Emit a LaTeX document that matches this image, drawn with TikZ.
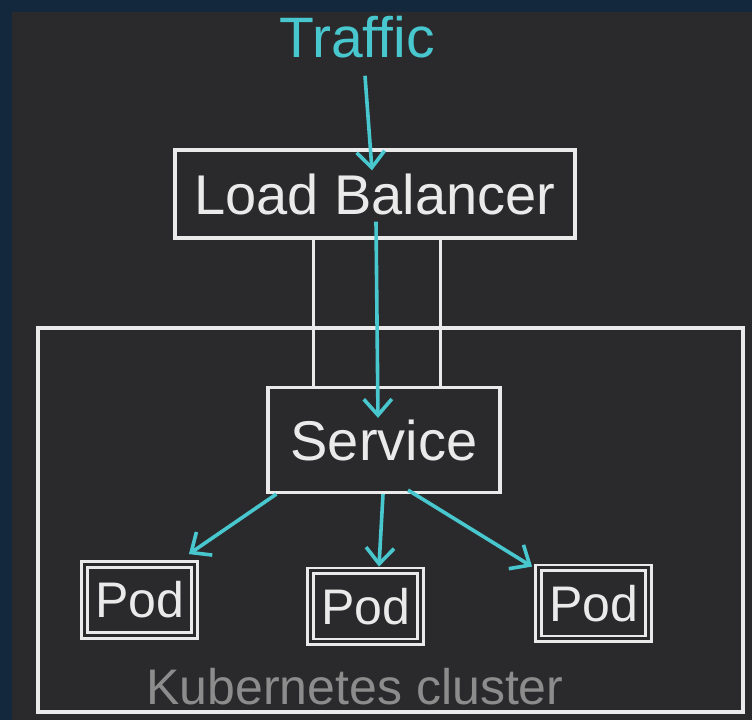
\documentclass[tikz,border=0pt]{standalone}
\usepackage{fontspec}
\setmainfont{Liberation Sans}
\usetikzlibrary{arrows.meta,positioning,calc}
\definecolor{board}{RGB}{42,42,44}
\definecolor{frame}{RGB}{19,40,61}
\definecolor{chalk}{RGB}{234,234,234}
\definecolor{flowcyan}{RGB}{72,200,206}
\definecolor{ash}{RGB}{140,140,140}
\begin{document}
\begin{tikzpicture}[x=1pt,y=1pt,
 box/.style={draw=chalk, line width=3.2pt, text=chalk, font=\fontsize{56}{60}\selectfont, inner sep=0pt},
 podbox/.style={draw=chalk, double=board, double distance=3pt, line width=2.8pt, text=chalk, font=\fontsize{50}{54}\selectfont, inner sep=0pt, minimum width=110pt, minimum height=71pt},
 flow/.style={-{Straight Barb[length=16pt,width=28pt]}, line width=3.6pt, color=flowcyan},
 wire/.style={draw=chalk, line width=3pt}]
\useasboundingbox (0,0) rectangle (752,720);
\fill[frame] (0,0) rectangle (752,720);
\fill[board] (12,0) rectangle (752,708);
\node[box, minimum width=705pt, minimum height=384pt] (cluster) at (390.5,200) {};
\node[font=\fontsize{50}{54}\selectfont, text=ash, anchor=base, inner sep=0pt] (clusterlbl) at (355,16) {Kubernetes cluster};
\node[box, minimum width=400pt, minimum height=88pt] (lb) at (375,526) {Load Balancer};
\node[font=\fontsize{57}{60}\selectfont, text=flowcyan, anchor=base, inner sep=0pt] (traffic) at (357,662) {Traffic};
\node[box, minimum width=232pt, minimum height=105pt] (service) at (384,280) {Service};
\node[podbox] (pod1) at (139.5,120) {Pod};
\node[podbox] (pod2) at (365.5,113.5) {Pod};
\node[podbox] (pod3) at (593.5,116.5) {Pod};
\coordinate (sl) at ($(service.north west)!.2!(service.north east)$);
\coordinate (sr) at ($(service.north west)!.74!(service.north east)$);
\draw[wire] (sl) -- (sl |- lb.south);
\draw[wire] (sr) -- (sr |- lb.south);
\draw[flow] ($(traffic.south)+(8,-17)$) -- ($(lb.north)+(-3,-22)$);
\draw[flow] ($(lb.south)+(1,18)$) -- ($(service.north)+(-6,-32)$);
\draw[flow] ($(service.south west)+(10,0)$) -- ($(pod1.north east)+(-7,9)$);
\draw[flow] ($(service.south)+(-1,0)$) -- ($(pod2.north)+(13.5,3)$);
\draw[flow] ($(service.south)+(24,4)$) -- ($(pod3.north west)+(-5,0)$);
\end{tikzpicture}
\end{document}
